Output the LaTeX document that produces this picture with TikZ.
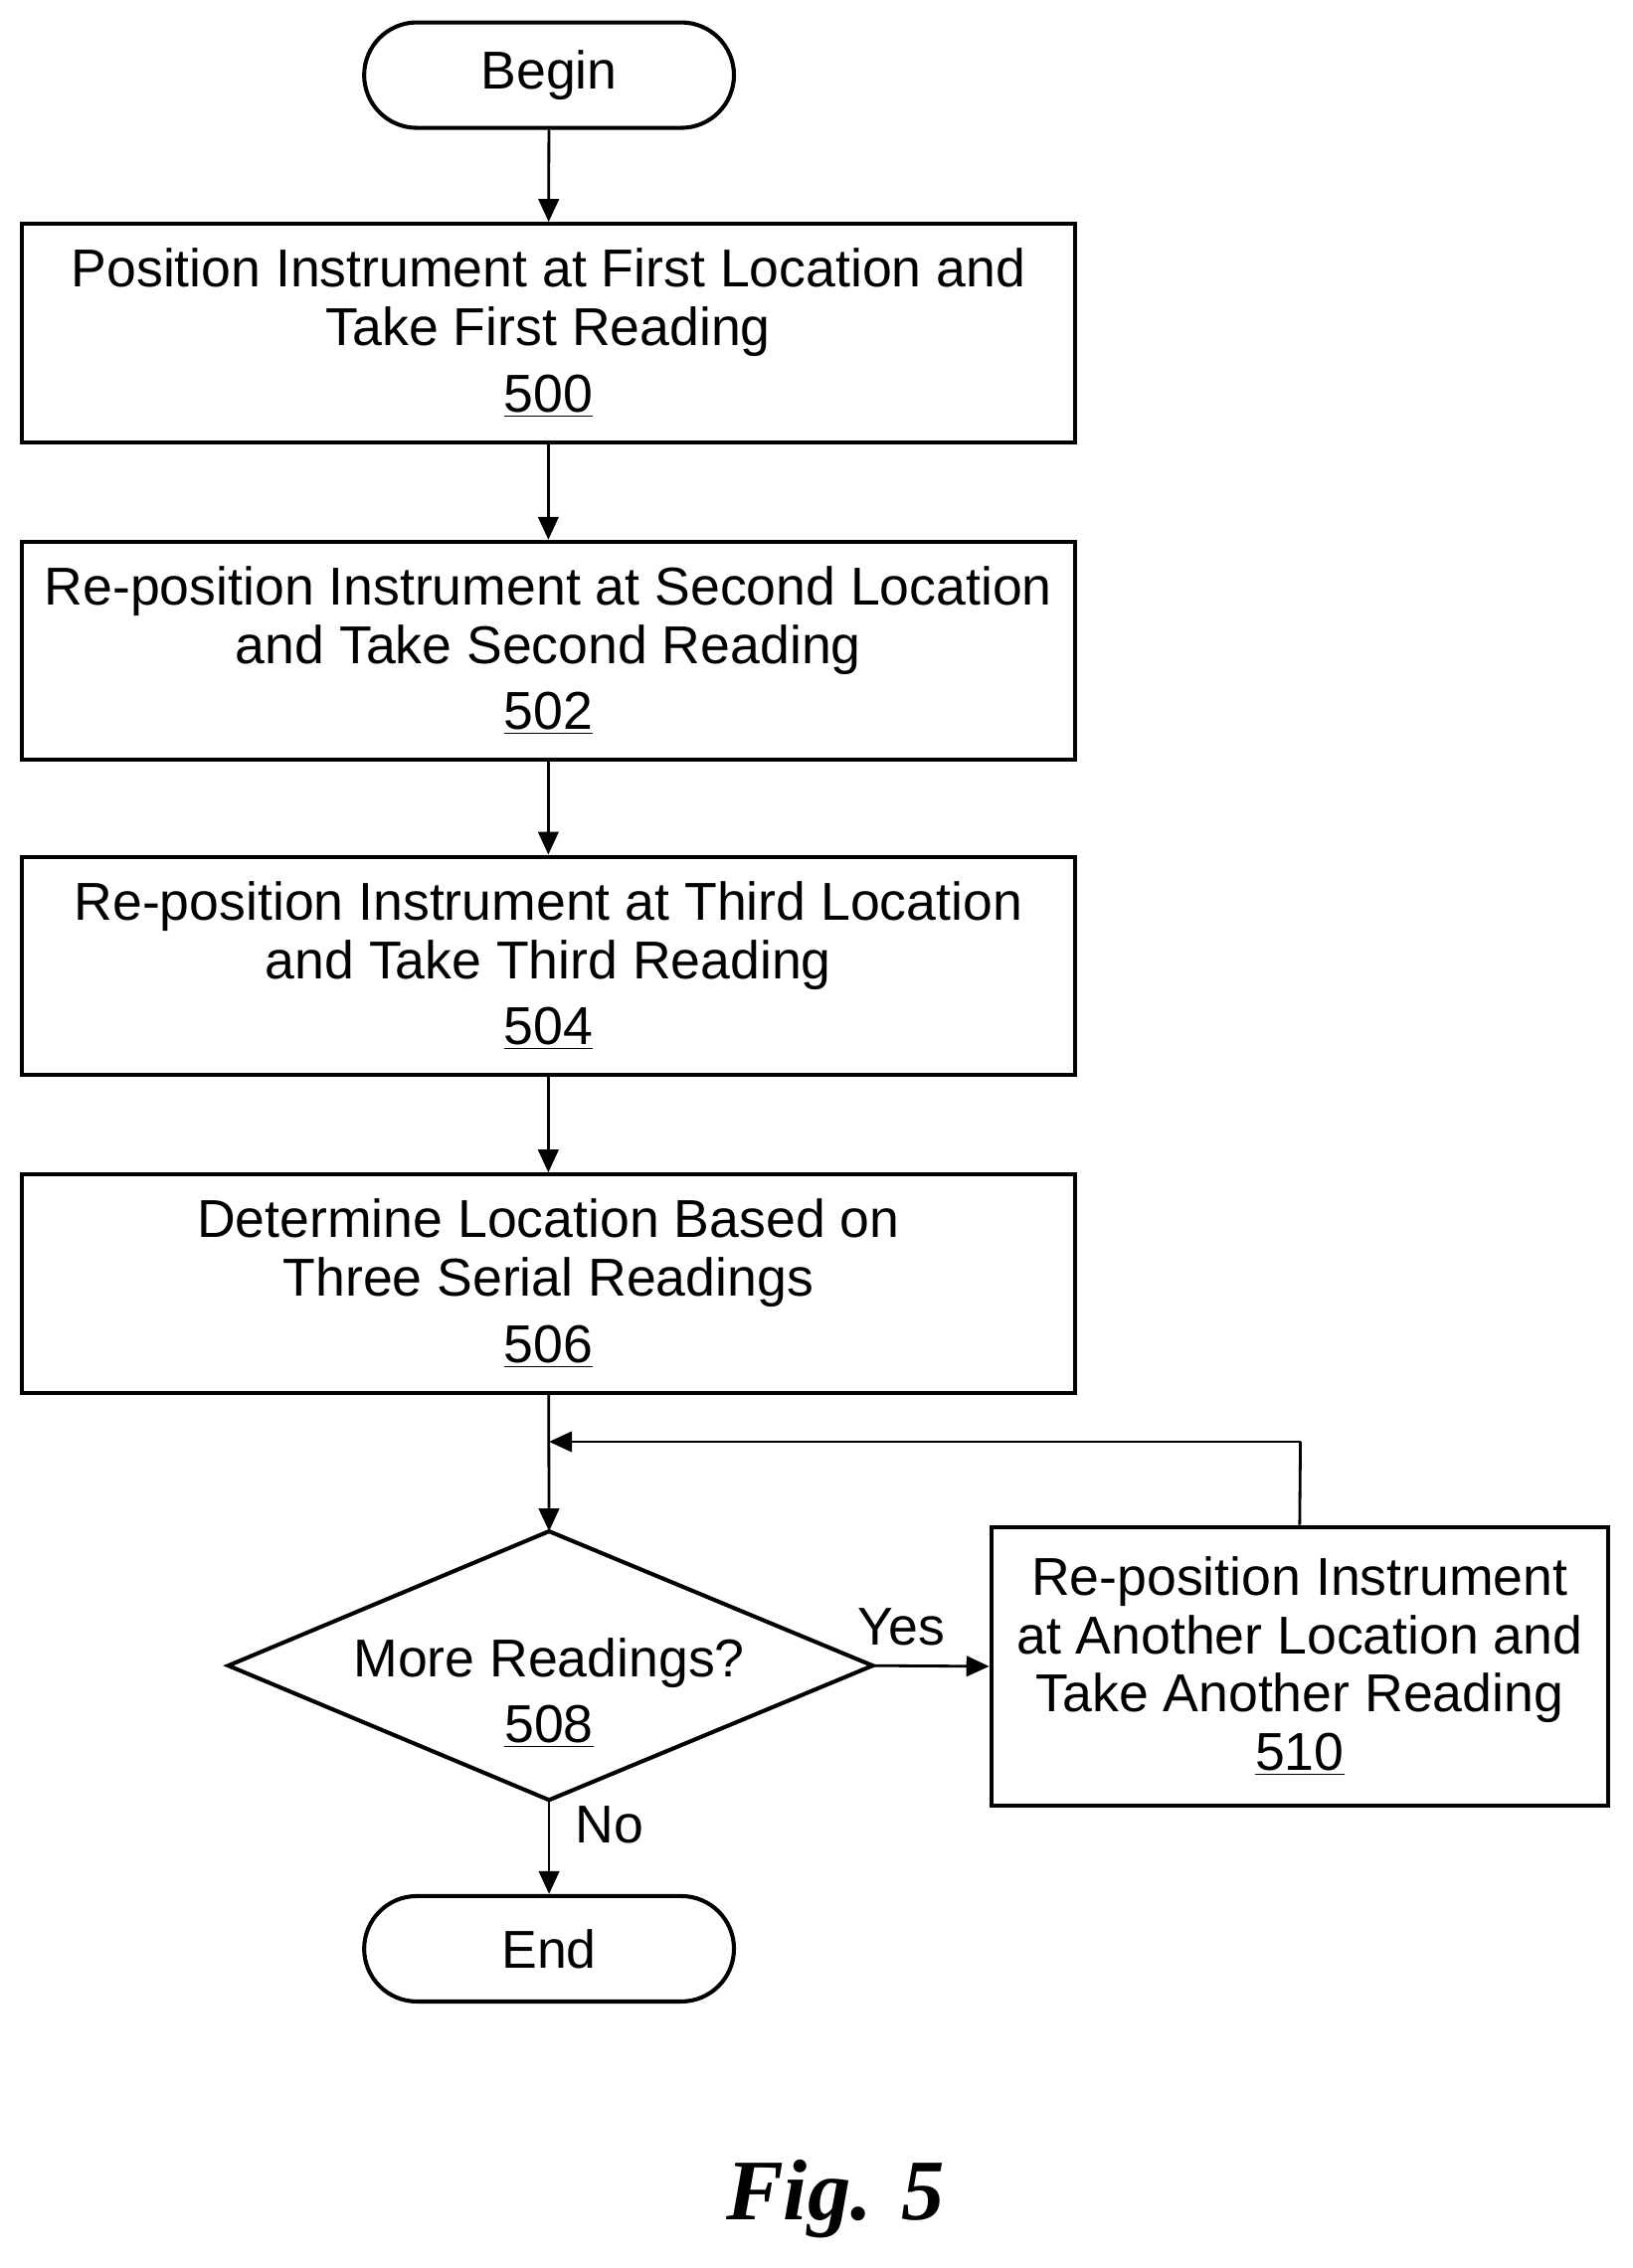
\documentclass[tikz,border=0pt]{standalone}
\usepackage{fontspec}
\setmainfont{Liberation Sans}
\newfontfamily\figfont{Liberation Serif}
\usetikzlibrary{arrows.meta}
\begin{document}
\begin{tikzpicture}[x=0.02cm,y=-0.02cm,
  every node/.style={font=\fontsize{21}{23}\selectfont, align=center},
  box/.style={draw, line width=1.6pt, minimum width=14.58cm, minimum height=3.02cm, inner sep=0pt},
  term/.style={draw, line width=1.6pt, minimum width=5.12cm, minimum height=1.46cm, rounded corners=0.73cm},
  arr/.style={line width=1.1pt, -{Triangle[length=9pt,width=8pt]}},
  ln/.style={line width=1.1pt}]
\useasboundingbox (0,0) rectangle (1130,1570);
\node[term] (begin) at (380,52) {Begin};
\node[box] (b500) at (379.5,230.5) {Position Instrument at First Location and\\Take First Reading\\[3pt]\underline{500}};
\node[box] (b502) at (379.5,450.5) {Re-position Instrument at Second Location\\and Take Second Reading\\[3pt]\underline{502}};
\node[box] (b504) at (379.5,668.5) {Re-position Instrument at Third Location\\and Take Third Reading\\[3pt]\underline{504}};
\node[box] (b506) at (379.5,888.5) {Determine Location Based on\\Three Serial Readings\\[3pt]\underline{506}};
\coordinate (dt) at (380,1060);
\coordinate (dl) at (158,1153);
\coordinate (dr) at (604,1153);
\coordinate (db) at (380,1246);
\draw[line width=1.6pt] (dt) -- (dr) -- (db) -- (dl) -- cycle;
\node (d) at (380,1172) {More Readings?\\[3pt]\underline{508}};
\node[draw, line width=1.6pt, minimum width=8.54cm, minimum height=3.86cm, inner sep=0pt] (b510) at (899.5,1153.5) {Re-position Instrument\\at Another Location and\\Take Another Reading\\\underline{510}};
\node[term] (end) at (380,1349) {End};
\coordinate (loop) at (380,998);
\coordinate (corner) at (900,998);
\draw[arr] (begin) -- (b500);
\draw[arr] (b500) -- (b502);
\draw[arr] (b502) -- (b504);
\draw[arr] (b504) -- (b506);
\draw[arr] (b506) -- (dt);
\draw[arr] (dr) -- (b510.west);
\draw[ln] (b510.north) -- (corner);
\draw[arr] (corner) -- (loop);
\draw[arr] (db) -- (end);
\node at (624,1126) {Yes};
\node at (422,1263) {No};
\node[font=\figfont\bfseries\itshape\fontsize{34}{38}\selectfont] (fig) at (578,1522) {Fig. 5};
\end{tikzpicture}
\end{document}
